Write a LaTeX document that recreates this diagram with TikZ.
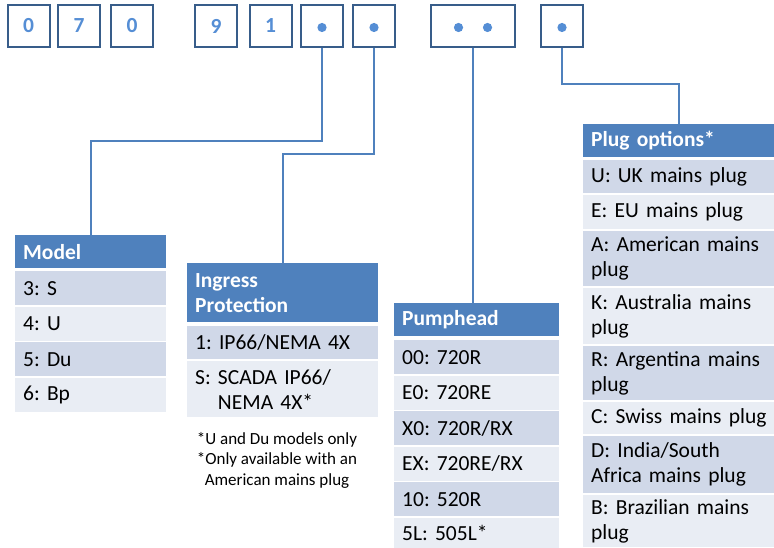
\documentclass[tikz,border=0pt]{standalone}
\usepackage{fontspec}
\setmainfont{Carlito}
\frenchspacing

\definecolor{boxline}{HTML}{385D8A}
\definecolor{digitblue}{HTML}{558ED5}
\definecolor{hdrblue}{HTML}{4F81BD}
\definecolor{rowdark}{HTML}{D0D8E8}
\definecolor{rowlight}{HTML}{E9EDF4}

\tikzset{
  digit/.style={draw=boxline,line width=2pt,fill=white,minimum width=42pt,minimum height=42pt,inner sep=0pt,text=digitblue,font=\bfseries\fontsize{21.5}{25}\selectfont},
  tab/.style={anchor=north west,inner xsep=8pt,inner ysep=0pt,align=left,font=\fontsize{21.5}{25}\selectfont},
  hdr/.style={tab,fill=hdrblue,text=white,font=\bfseries\fontsize{21.5}{25}\selectfont},
  dark/.style={tab,fill=rowdark},
  light/.style={tab,fill=rowlight},
  conn/.style={draw=hdrblue,line width=1.8pt},
  note/.style={align=center,inner sep=0pt,font=\fontsize{17}{20.5}\selectfont}
}

\begin{document}
\begin{tikzpicture}[x=1pt,y=-1pt]
    \useasboundingbox (0,0) rectangle (774,548);
    % code boxes
    \node[digit] at (28.5,26) (d1){0};
    \node[digit] at (79,26) (d2){7};
    \node[digit] at (132,26) (d3){0};
    \node[digit] at (216,26) (d4){9};
    \node[digit] at (270.5,26) (d5){1};
    \node[digit] at (322,26) (d6){};
    \node[digit] at (374,26) (d7){};
    \node[digit,minimum width=84pt] at (473,26) (d8){};
    \node[digit] at (562,26) (d9){};
    \fill[digitblue] ([yshift=-1.5pt]d6.center) circle (4.6pt);
    \fill[digitblue] ([yshift=-1.5pt]d7.center) circle (4.6pt);
    \fill[digitblue] ([xshift=-14.5pt,yshift=-1.5pt]d8.center) circle (4.6pt);
    \fill[digitblue] ([xshift=14.5pt,yshift=-1.5pt]d8.center) circle (4.6pt);
    \fill[digitblue] ([yshift=-1.5pt]d9.center) circle (4.6pt);
    % model
    \node[hdr,text width=135pt,minimum height=33pt] at (15,235) (model){Model};
    \node[dark,text width=135pt,minimum height=34pt] at (15,271) (m3){3: S};
    \node[light,text width=135pt,minimum height=34pt] at (15,306.5) (m4){4: U};
    \node[dark,text width=135pt,minimum height=34pt] at (15,342) (m5){5: Du};
    \node[light,text width=135pt,minimum height=34pt] at (15,377.5) (m6){6: Bp};
    % ingress protection
    \node[hdr,text width=175pt,minimum height=59pt] at (187,263) (ingress){Ingress\\Protection};
    \node[dark,text width=175pt,minimum height=33pt] at (187,326) (ip1){1: IP66/NEMA 4X};
    \node[light,text width=175pt,minimum height=56pt] at (187,361) (ipS){S: SCADA IP66/\\\phantom{S: }NEMA 4X*};
    \node[note] at (277,460) (fn){*U and Du models only\\*Only available with an\\American mains plug};
    % pumphead
    \node[hdr,text width=149pt,minimum height=33pt] at (394,303) (pump){Pumphead};
    \node[dark,text width=149pt,minimum height=34pt] at (394,340) (p00){00: 720R};
    \node[light,text width=149pt,minimum height=34pt] at (394,375.5) (pE0){E0: 720RE};
    \node[dark,text width=149pt,minimum height=34pt] at (394,411) (pX0){X0: 720R/RX};
    \node[light,text width=149pt,minimum height=34pt] at (394,446.5) (pEX){EX: 720RE/RX};
    \node[dark,text width=149pt,minimum height=34pt] at (394,482) (p10){10: 520R};
    \node[light,text width=149pt,minimum height=30pt] at (394,517.5) (p5L){5L: 505L*};
    % plug options
    \node[hdr,text width=175pt,minimum height=33pt] at (583,124) (plug){Plug options*};
    \node[dark,text width=175pt,minimum height=33pt] at (583,160) (pgU){U: UK mains plug};
    \node[light,text width=175pt,minimum height=34pt] at (583,195) (pgE){E: EU mains plug};
    \node[dark,text width=175pt,minimum height=55pt] at (583,231) (pgA){A: American mains\\plug};
    \node[light,text width=175pt,minimum height=56pt] at (583,288) (pgK){K: Australia mains\\plug};
    \node[dark,text width=175pt,minimum height=54pt] at (583,346) (pgR){R: Argentina mains\\plug};
    \node[light,text width=175pt,minimum height=32pt] at (583,402) (pgC){\mbox{C: Swiss mains plug}};
    \node[dark,text width=175pt,minimum height=57pt] at (583,436) (pgD){D: India/South\\Africa mains plug};
    \node[light,text width=175pt,minimum height=52pt] at (583,495) (pgB){B: Brazilian mains\\plug};
    % connectors
    \draw[conn] (d6.south) -- ++(0,93) -| (model.north);
    \draw[conn] (d7.south) -- ++(0,106) -| (ingress.north);
    \draw[conn] (d8.south) -- (d8.south |- pump.north);
    \draw[conn] (d9.south) -- ++(0,36) -| (plug.north);
  \end{tikzpicture}
\end{document}
